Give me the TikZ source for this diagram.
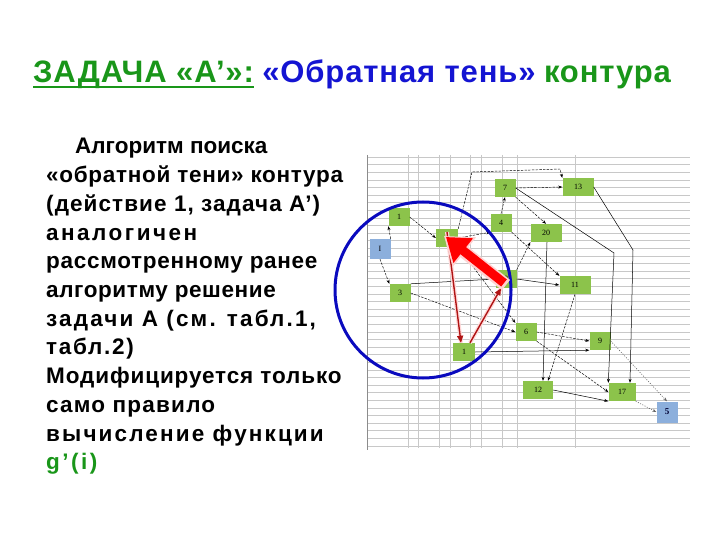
\documentclass[tikz,border=0pt]{standalone}
\usepackage{fontspec}
\setmainfont{Liberation Sans}
\newfontfamily\labfont{Liberation Serif}
\usetikzlibrary{arrows.meta,calc}
\definecolor{tgreen}{RGB}{25,150,25}
\definecolor{tblue}{RGB}{20,20,210}
\definecolor{ngreen}{RGB}{140,195,75}
\definecolor{nblue}{RGB}{140,175,220}
\definecolor{gridc}{RGB}{200,200,200}
\definecolor{cblue}{RGB}{10,10,190}
\definecolor{dred}{RGB}{175,20,20}
\newcommand{\ls}[2]{{\addfontfeature{LetterSpace=#1}#2}}
\tikzset{
  gnode/.style={fill=ngreen, minimum width=21pt, minimum height=18pt, inner sep=0pt, font=\labfont\fontsize{8}{8}\selectfont},
  gwide/.style={gnode, minimum width=31pt},
  bnode/.style={gnode, fill=nblue, minimum height=20pt},
  txt/.style={anchor=base west, inner sep=0pt, font=\bfseries\fontsize{22.5}{22.5}\selectfont},
  ttl/.style={anchor=base west, inner sep=0pt, font=\bfseries\fontsize{31}{31}\selectfont\addfontfeature{LetterSpace=2.8}},
  edge/.style={draw=black, line width=0.45pt, dash pattern=on 2.5pt off 1.2pt, -{Stealth[length=4pt,width=3pt]}},
  sedge/.style={draw=black, line width=0.5pt, -{Stealth[length=4pt,width=3pt]}},
  dedge/.style={draw=black!60, line width=0.6pt, dash pattern=on 1pt off 1.5pt, -{Stealth[length=4pt,width=3pt]}},
  redthin/.style={draw=dred, line width=1.4pt, -{Triangle[length=7pt,width=6pt]}},
}
\begin{document}
\begin{tikzpicture}[x=1pt,y=-1pt]
\useasboundingbox (0,0) rectangle (720,540);
% title
\node[ttl, text=tgreen] (t1) at (33,83) {ЗАДАЧА «А’»:};
\node[ttl, text=tblue] (t2) at ([xshift=8pt]t1.base east) {«Обратная тень»};
\node[ttl, text=tgreen] (t3) at ([xshift=8pt]t2.base east) {контура};
\draw[tgreen, line width=2pt] ([yshift=-4pt]t1.base west) -- ([yshift=-4pt]t1.base east);
% body text
\node[txt] (l1) at (75,154) {Алгоритм поиска};
\node[txt] (l2) at (46,182.7) {\ls{3.1}{«обратной тени» контура}};
\node[txt] (l3) at (46,211.4) {\ls{4.8}{(действие 1, задача А’)}};
\node[txt] (l4) at (46,240.1) {\ls{11}{аналогичен}};
\node[txt] (l5) at (46,268.8) {\ls{3.1}{рассмотренному ранее}};
\node[txt] (l6) at (46,297.5) {\ls{2.6}{алгоритму решение}};
\node[txt] (l7) at (46,326.2) {\ls{9.5}{задачи А (см. табл.1,}};
\node[txt] (l8) at (46,354.9) {\ls{7.5}{табл.2)}};
\node[txt] (l9) at (46,383.6) {\ls{3.9}{Модифицируется только}};
\node[txt] (l10) at (46,412.3) {\ls{5.4}{само правило}};
\node[txt] (l11) at (46,441) {\ls{9.5}{вычисление функции}};
\node[txt, text=tgreen] (l12) at (46,469.7) {\ls{11}{g’(i)}};
% grid
\foreach \k in {0,...,38} {\draw[gridc, line width=0.5pt] (367,157+7.6*\k) -- (690,157+7.6*\k);}
\foreach \xx in {408,418,439,450,470,481,502,517,575} {\draw[gridc, line width=0.5pt] (\xx,155) -- (\xx,448);}
\draw[black!45, line width=0.8pt] (367,155) -- (367,450);
% nodes
\node[bnode] (nI) at (380,249) {I};
\node[gnode] (n1) at (399,217) {1};
\node[gnode, minimum width=22pt] (nb) at (447,238) {};
\node[gnode] (n4) at (501,223) {4};
\node[gnode] (n7) at (505,188) {7};
\node[gwide] (n13) at (578,187) {13};
\node[gwide] (n20) at (546,233) {20};
\node[gnode] (n3) at (400,293) {3};
\node[gnode] (n8) at (506,279) {8};
\node[gwide] (n11) at (575,285) {11};
\node[gnode] (n6) at (526,332) {6};
\node[gnode] (n9) at (600,341) {9};
\node[gnode, minimum width=22pt] (nx) at (464,352) {1};
\node[gwide, minimum width=30pt] (n12) at (538,390) {12};
\node[gnode, minimum width=27pt] (n17) at (622,392) {17};
\node[bnode, minimum height=21pt, font=\labfont\bfseries\fontsize{9}{9}\selectfont, text=black!80!blue] (n5) at (667,412) {5};
% edges
\coordinate (p1) at (472,172);
\coordinate (p2) at (560,169);
\coordinate (p3) at (614,253);
\coordinate (p4) at (633,250);
\path[edge] (nI.north east) -- (n1.south west);
\path[edge] (nI.south) -- (n3.north west);
\path[edge] (n1.east) -- (nb.west);
\path[edge] (nb.east) -- (n4.south west);
\path[edge] (nb.north east) -- (p1) -- (p2) -- (n13.north west);
\path[edge] (n4.north) -- (n7.south);
\path[edge] (n7.east) -- (n13.west);
\path[edge] (n7.south east) -- (n20.north);
\path[sedge] (n7.east) -- (p3) -- (n17.north west);
\path[sedge] (n13.east) -- (p4) -- ([xshift=8pt]n17.north);
\path[edge] (n4.south east) -- (n11.north west);
\path[edge] (n8.north east) -- (n20.south west);
\path[sedge] (n8.east) -- (n11.west);
\draw[black, line width=0.5pt] (n3.north east) -- (n8.west);
\path[sedge] ([xshift=1pt]n20.south) -- ([xshift=5pt]n12.north);
\path[edge] (n11.south) -- ([xshift=10pt]n12.north);
\path[edge] (n3.east) -- (n6.west);
\path[edge] (nb.south east) -- (n6.north west);
\path[sedge] (nx.east) -- (n9.south west);
\path[edge] (n6.east) -- (n9.west);
\path[edge] (n6.south east) -- (n17.west);
\path[sedge] (n12.east) -- (n17.south west);
\path[dedge] (n9.east) -- (n5.north);
\path[dedge] (n17.south east) -- (n5.west);
% circle
\draw[cblue, line width=3pt] (423,290) circle[radius=88];
% red arrows
\draw[red!15, line width=4pt] ([yshift=6pt]nb.center) -- ([xshift=-3pt]nx.north);
\draw[red!15, line width=4pt] ([xshift=6pt]nx.north) -- ([xshift=-5pt]n8.south);
\draw[redthin] ([yshift=6pt]nb.center) -- ([xshift=-3pt]nx.north);
\draw[redthin] ([xshift=6pt]nx.north) -- ([xshift=-5pt]n8.south);
\draw[red!18, line width=13pt, -{Triangle[length=26pt,width=36pt]}] (506,285) -- (444,236);
\draw[red, line width=9pt, -{Triangle[length=22pt,width=30pt]}] (504,283) -- (446,237);
\end{tikzpicture}
\end{document}
